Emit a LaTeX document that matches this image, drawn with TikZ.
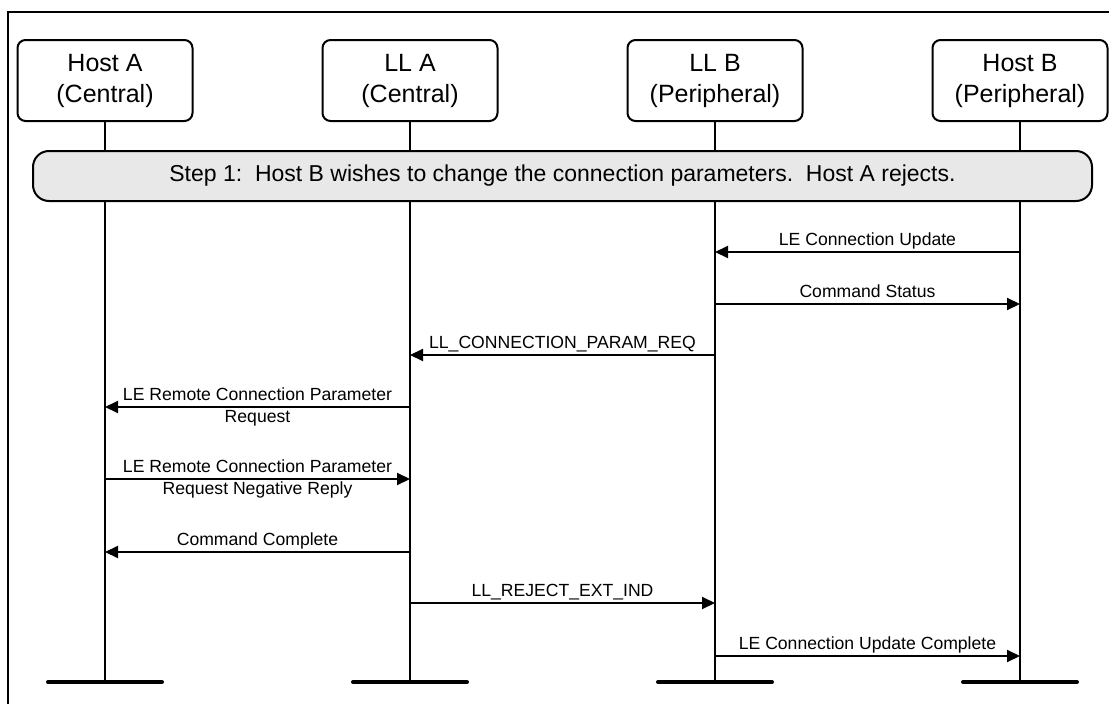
\documentclass[tikz,border=0pt]{standalone}
\usepackage{fontspec}
\setmainfont{Liberation Sans}
\usetikzlibrary{arrows.meta,positioning}

\begin{document}
\begin{tikzpicture}[x=1pt, y=-1pt, node distance=128pt, line width=2pt, box/.style={draw, rounded corners=8pt, minimum width=175pt, minimum height=81pt, align=center, font=\fontsize{25pt}{31pt}\selectfont}, banner/.style={draw, fill=black!9, rounded corners=16pt, minimum width=1059pt, minimum height=50pt, font=\fontsize{23pt}{28pt}\selectfont}, bar/.style={line width=4pt, line cap=round}, msg/.style={-{Triangle[length=13pt,width=12pt]}}, lbl/.style={font=\fontsize{17.6pt}{22pt}\selectfont, inner sep=1pt}, lblup/.style={lbl, anchor=base, yshift=6.5pt}, lbltwo/.style={lbl, align=center}]
\useasboundingbox (0,0) rectangle (1109,704);
\draw (7.5,704) -- (7.5,11.5) -- (1109,11.5);
\node[box] (hostA) at (105,80.5) {Host A\\(Central)};
\node[box, right=of hostA] (llA) {LL A\\(Central)};
\node[box, right=of llA] (llB) {LL B\\(Peripheral)};
\node[box, right=of llB] (hostB) {Host B\\(Peripheral)};
\coordinate (hostAend) at (hostA |- 0,682); \coordinate (llAend) at (llA |- 0,682); \coordinate (llBend) at (llB |- 0,682); \coordinate (hostBend) at (hostB |- 0,682);
\draw (hostA) -- (hostAend); \draw (llA) -- (llAend); \draw (llB) -- (llBend); \draw (hostB) -- (hostBend);
\node[banner] (step1) at (562.5,176) {Step 1:~~Host B wishes to change the connection parameters.~~Host A rejects.};
\draw[bar] ([xshift=-57pt]hostAend) -- ([xshift=57pt]hostAend); \draw[bar] ([xshift=-57pt]llAend) -- ([xshift=57pt]llAend); \draw[bar] ([xshift=-57pt]llBend) -- ([xshift=57pt]llBend); \draw[bar] ([xshift=-57pt]hostBend) -- ([xshift=57pt]hostBend);
% messages
\draw[msg] (hostB |- 0,252) -- node[lblup] {LE Connection Update} (llB |- 0,252);
\draw[msg] (llB |- 0,304) -- node[lblup] {Command Status} (hostB |- 0,304);
\draw[msg] (llB |- 0,355) -- node[lblup] {LL\_CONNECTION\_PARAM\_REQ} (llA |- 0,355);
\draw[msg] (llA |- 0,407) -- node[lbltwo] {LE Remote Connection Parameter\\Request} (hostA |- 0,407);
\draw[msg] (hostA |- 0,479) -- node[lbltwo] {LE Remote Connection Parameter\\Request Negative Reply} (llA |- 0,479);
\draw[msg] (llA |- 0,552) -- node[lblup] {Command Complete} (hostA |- 0,552);
\draw[msg] (llA |- 0,603) -- node[lblup] {LL\_REJECT\_EXT\_IND} (llB |- 0,603);
\draw[msg] (llB |- 0,656) -- node[lblup] {LE Connection Update Complete} (hostB |- 0,656);
\end{tikzpicture}
\end{document}
